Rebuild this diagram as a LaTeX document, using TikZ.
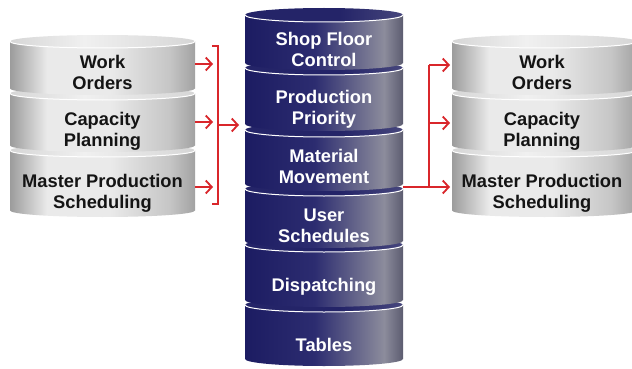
\documentclass[tikz,border=0pt]{standalone}
\usepackage{fontspec}
\setmainfont{Liberation Sans}
\usetikzlibrary{arrows.meta}

\definecolor{navyA}{HTML}{1C1C62}
\definecolor{navyB}{HTML}{2C2C70}
\definecolor{navyC}{HTML}{8C8C9C}
\definecolor{navyD}{HTML}{5C5C70}
\definecolor{navyT}{HTML}{242468}
\definecolor{navyU}{HTML}{46467C}
\definecolor{greyA}{HTML}{9C9C9C}
\definecolor{greyB}{HTML}{EAEAEA}
\definecolor{greyC}{HTML}{C6C6C6}
\definecolor{greyD}{HTML}{A2A2A2}
\definecolor{greyT}{HTML}{D6D6D6}
\definecolor{greyU}{HTML}{F0F0F0}
\definecolor{arrowred}{HTML}{D9262B}

\pgfdeclarehorizontalshading{navybody}{100bp}{color(0bp)=(navyA); color(25bp)=(navyA);
  color(47bp)=(navyB); color(69bp)=(navyC); color(75bp)=(navyD); color(100bp)=(navyD)}
\pgfdeclarehorizontalshading{navytop}{100bp}{color(0bp)=(navyT); color(25bp)=(navyT);
  color(55bp)=(navyT); color(75bp)=(navyU); color(100bp)=(navyU)}
\pgfdeclarehorizontalshading{greybody}{100bp}{color(0bp)=(greyA); color(25bp)=(greyA);
  color(35bp)=(greyB); color(52bp)=(greyB); color(68bp)=(greyC); color(75bp)=(greyD); color(100bp)=(greyD)}
\pgfdeclarehorizontalshading{greytop}{100bp}{color(0bp)=(greyT); color(25bp)=(greyT);
  color(45bp)=(greyU); color(75bp)=(greyT); color(100bp)=(greyT)}

% one disk of a stack: x1, x2, top centre, bottom centre, y radius, body shading, top shading
\newcommand{\cyldisk}[7]{%
  \pgfmathsetmacro\dskrx{(#2-#1)/2}
  \shade[shading=#6] (#1,#3) -- (#1,#4) arc[start angle=180,end angle=0,x radius=\dskrx,y radius=#5] -- (#2,#3) -- cycle;
  \shade[shading=#7] ({(#1+#2)/2},#3) ellipse[x radius=\dskrx,y radius=#5];
  \draw[white,line width=1pt] (#2,#3) arc[start angle=0,end angle=180,x radius=\dskrx,y radius=#5];
}

\tikzset{
  wire/.style={draw=arrowred, line width=1.8pt},
  flow/.style={wire, -{Straight Barb[length=6pt,width=13pt]}},
  greylabel/.style={align=center, inner sep=0pt, text=black!92, font=\fontsize{18.3}{21}\selectfont\bfseries},
  navylabel/.style={greylabel, text=white},
}

\begin{document}
\begin{tikzpicture}[x=1pt,y=-1pt]
\clip (0,0) rectangle (632,369);
\fill[white] (0,0) rectangle (632,369);

% left stack
\cyldisk{10}{195}{150.5}{210.5}{6.5}{greybody}{greytop}
\cyldisk{10}{195}{93.5}{145.5}{6.5}{greybody}{greytop}
\cyldisk{10}{195}{41.5}{88.5}{6.5}{greybody}{greytop}

% right stack
\cyldisk{452}{637}{150.5}{210.5}{6.5}{greybody}{greytop}
\cyldisk{452}{637}{93.5}{145.5}{6.5}{greybody}{greytop}
\cyldisk{452}{637}{41.5}{88.5}{6.5}{greybody}{greytop}

% centre stack
\cyldisk{245}{403}{305}{359}{7}{navybody}{navytop}
\cyldisk{245}{403}{245}{300}{7}{navybody}{navytop}
\cyldisk{245}{403}{189}{241}{7}{navybody}{navytop}
\cyldisk{245}{403}{130}{184}{7}{navybody}{navytop}
\cyldisk{245}{403}{68}{124}{7}{navybody}{navytop}
\cyldisk{245}{403}{15}{63}{7}{navybody}{navytop}

\node[greylabel] (lwo) at (102.5,72.5) {Work\\Orders};
\node[greylabel] (lcp) at (102.5,131) {Capacity\\Planning};
\node[greylabel] (lmps) at (102.5,193) {Master Production\\Scheduling};

\node[greylabel] (rwo) at (542,72.5) {Work\\Orders};
\node[greylabel] (rcp) at (542,131) {Capacity\\Planning};
\node[greylabel] (rmps) at (542,193) {Master Production\\Scheduling};

\node[navylabel] (sfc) at (324,49) {Shop Floor\\Control};
\node[navylabel] (pp) at (324,109) {Production\\Priority};
\node[navylabel] (mm) at (324,166.5) {Material\\Movement};
\node[navylabel] (us) at (324,226) {User\\Schedules};
\node[navylabel] (dis) at (324,287) {Dispatching};
\node[navylabel] (tab) at (324,345) {Tables};

% connector ends
\coordinate (lwo-e) at (195,64);
\coordinate (lcp-e) at (195,122);
\coordinate (lmps-e) at (195,187);
\coordinate (brk-t) at (218,46);
\coordinate (brk-b) at (218,204);
\coordinate (brk-m) at (218,125);
\coordinate (core-in) at (239,125);
\coordinate (core-out) at (403,187);
\coordinate (split-t) at (429,65);
\coordinate (split-b) at (429,187);
\coordinate (rwo-w) at (450,65);
\coordinate (rcp-w) at (450,123);
\coordinate (rmps-w) at (450,187);

\draw[flow, shorten >=5pt] (lwo-e) -- (lwo-e -| brk-t);
\draw[flow, shorten >=5pt] (lcp-e) -- (lcp-e -| brk-t);
\draw[flow, shorten >=5pt] (lmps-e) -- (lmps-e -| brk-t);
\draw[wire] ([xshift=-6pt]brk-t) -- (brk-t) -- (brk-b) -- ([xshift=-6pt]brk-b);
\draw[flow] (brk-m) -- (core-in);

\draw[wire] (core-out) -- (split-b);
\draw[wire] (split-t) -- (split-b);
\draw[flow] (split-t) -- (rwo-w);
\draw[flow] (split-t |- rcp-w) -- (rcp-w);
\draw[flow] (split-b) -- (rmps-w);
\end{tikzpicture}
\end{document}
